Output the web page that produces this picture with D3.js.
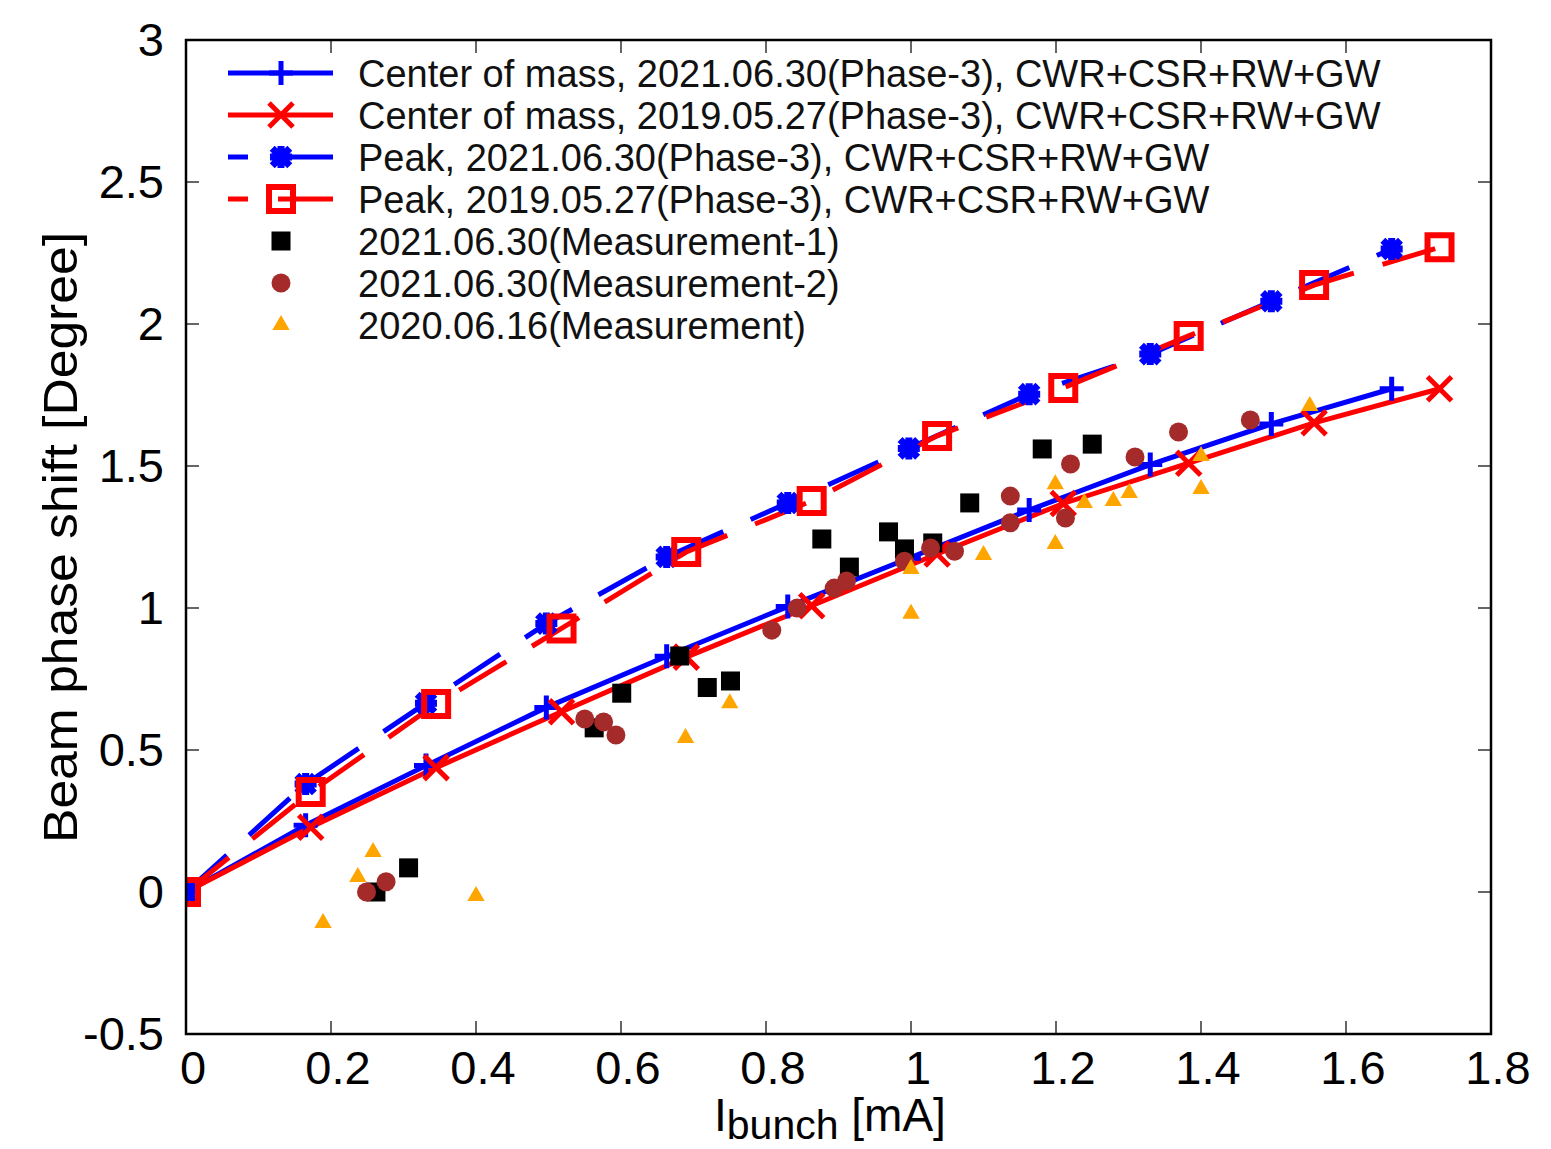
<!DOCTYPE html>
<html>
<head>
<meta charset="utf-8">
<script src="https://cdn.jsdelivr.net/npm/d3@7"></script>
<style>
  html, body { margin: 0; padding: 0; background: #fff; }
  svg { display: block; font-family: "Liberation Sans", Arial, Helvetica, sans-serif; }
</style>
</head>
<body>
<svg id="chart"></svg>
<script>
// simulation curves (x in mA, y in degree)
const com2021X = [0, 0.165, 0.331, 0.497, 0.663, 0.83, 0.997, 1.163, 1.33, 1.497, 1.663];
const com2021Y = [0, 0.235, 0.445, 0.65, 0.83, 1.005, 1.175, 1.345, 1.505, 1.648, 1.772];
const com2019X = [0, 0.172, 0.345, 0.518, 0.69, 0.863, 1.036, 1.21, 1.383, 1.556, 1.729];
const com2019Y = [0, 0.228, 0.438, 0.635, 0.827, 1.008, 1.19, 1.368, 1.51, 1.652, 1.772];
const peak2021Y = [0, 0.38, 0.665, 0.945, 1.18, 1.37, 1.562, 1.753, 1.894, 2.08, 2.264];
const peak2019Y = [0, 0.352, 0.662, 0.928, 1.197, 1.377, 1.606, 1.775, 1.958, 2.137, 2.27];

// measurements
const meas1X = [0.262, 0.307, 0.563, 0.601, 0.681, 0.719, 0.751, 0.877, 0.915, 0.969, 0.991, 1.03, 1.081, 1.181, 1.25];
const meas1Y = [0.0, 0.085, 0.578, 0.70, 0.831, 0.72, 0.743, 1.243, 1.144, 1.268, 1.208, 1.229, 1.37, 1.56, 1.577];
const meas2X = [0.249, 0.276, 0.55, 0.576, 0.593, 0.808, 0.843, 0.894, 0.911, 0.991, 1.027, 1.06, 1.137, 1.137, 1.213, 1.22, 1.309, 1.369, 1.468];
const meas2Y = [0.0, 0.036, 0.609, 0.599, 0.553, 0.922, 1.0, 1.07, 1.095, 1.165, 1.211, 1.2, 1.3, 1.394, 1.317, 1.507, 1.532, 1.62, 1.662];
const meas3X = [0.189, 0.237, 0.258, 0.4, 0.689, 0.75, 1.0, 1.0, 1.1, 1.199, 1.199, 1.239, 1.279, 1.301, 1.4, 1.4, 1.55];
const meas3Y = [-0.109, 0.053, 0.141, -0.014, 0.542, 0.665, 0.98, 1.137, 1.187, 1.225, 1.436, 1.37, 1.377, 1.405, 1.419, 1.535, 1.711];

const xTicks = [0, 0.2, 0.4, 0.6, 0.8, 1, 1.2, 1.4, 1.6, 1.8];
const yTicks = [-0.5, 0, 0.5, 1, 1.5, 2, 2.5, 3];

const legendLabels = [
    "Center of mass, 2021.06.30(Phase-3), CWR+CSR+RW+GW",
    "Center of mass, 2019.05.27(Phase-3), CWR+CSR+RW+GW",
    "Peak, 2021.06.30(Phase-3), CWR+CSR+RW+GW",
    "Peak, 2019.05.27(Phase-3), CWR+CSR+RW+GW",
    "2021.06.30(Measurement-1)",
    "2021.06.30(Measurement-2)",
    "2020.06.16(Measurement)",
];

const width = 1551;
const height = 1149;
const plot = { left: 186, right: 1491, top: 40, bottom: 1034 };

const svg = d3.select("#chart").attr("width", width).attr("height", height);

const x = d3.scaleLinear().domain([0, 1.8]).range([plot.left, plot.right]);
const y = d3.scaleLinear().domain([-0.5, 3]).range([plot.bottom, plot.top]);

const zip = (xs, ys) => xs.map((v, i) => ({ x: v, y: ys[i] }));

// marker shapes, centred on 0,0
const markers = {
    plus: (s) => `M${-s},0H${s}M0,${-s}V${s}`,
    cross: (s) => `M${-s},${-s}L${s},${s}M${-s},${s}L${s},${-s}`,
    star: (s) =>
        `M${-s},0H${s}M0,${-s}V${s}M${-s * 0.8},${-s * 0.8}L${s * 0.8},${s * 0.8}M${-s * 0.8},${s * 0.8}L${s * 0.8},${-s * 0.8}`,
    box: (s) => `M${-s},${-s}H${s}V${s}H${-s}Z`,
};

const series = [
    { data: zip(com2021X, com2021Y), color: "#0000ff", dash: null, marker: "plus", size: 12, sw: 5 },
    { data: zip(com2019X, com2019Y), color: "#ff0000", dash: null, marker: "cross", size: 12, sw: 5 },
    { data: zip(com2021X, peak2021Y), color: "#0000ff", dash: "55,30", marker: "star", size: 11, sw: 7 },
    { data: zip(com2019X, peak2019Y), color: "#ff0000", dash: "55,30", marker: "box", size: 12, sw: 6 },
];

// axis ticks (mirrored, pointing inwards)
const tickLen = 13;
const ticks = svg.append("g").attr("stroke", "#333").attr("stroke-width", 1.5);
xTicks.slice(1, -1).forEach((t) => {
    ticks.append("line").attr("x1", x(t)).attr("x2", x(t)).attr("y1", plot.bottom).attr("y2", plot.bottom - tickLen);
    ticks.append("line").attr("x1", x(t)).attr("x2", x(t)).attr("y1", plot.top).attr("y2", plot.top + tickLen);
});
yTicks.slice(1, -1).forEach((t) => {
    ticks.append("line").attr("x1", plot.left).attr("x2", plot.left + tickLen).attr("y1", y(t)).attr("y2", y(t));
    ticks.append("line").attr("x1", plot.right).attr("x2", plot.right - tickLen).attr("y1", y(t)).attr("y2", y(t));
});

// tick labels
svg.append("g")
    .selectAll("text")
    .data(xTicks)
    .join("text")
    .attr("x", (d) => x(d) + 7)
    .attr("y", plot.bottom + 50)
    .attr("text-anchor", "middle")
    .attr("font-size", 47)
    .text((d) => String(d));

svg.append("g")
    .selectAll("text")
    .data(yTicks)
    .join("text")
    .attr("x", plot.left - 22)
    .attr("y", (d) => y(d) + 16)
    .attr("text-anchor", "end")
    .attr("font-size", 47)
    .text((d) => String(d));

// axis titles
svg.append("text")
    .attr("transform", `translate(77, ${(232 + 843) / 2}) rotate(-90)`)
    .attr("text-anchor", "middle")
    .attr("font-size", 48)
    .attr("textLength", 611)
    .attr("lengthAdjust", "spacingAndGlyphs")
    .text("Beam phase shift [Degree]");

const xTitle = svg.append("text").attr("x", 714).attr("y", 1131).attr("font-size", 46);
xTitle.append("tspan").text("I");
xTitle.append("tspan").attr("font-size", 41).attr("dy", 8).text("bunch");
xTitle.append("tspan").attr("dy", -8).text(" [mA]");

// plot clip
svg.append("clipPath").attr("id", "clip")
    .append("rect")
    .attr("x", plot.left).attr("y", plot.top)
    .attr("width", plot.right - plot.left).attr("height", plot.bottom - plot.top);

const body = svg.append("g").attr("clip-path", "url(#clip)");
const line = d3.line().x((d) => x(d.x)).y((d) => y(d.y));

// curves
series.forEach((s) => {
    body.append("path")
        .datum(s.data)
        .attr("d", line)
        .attr("fill", "none")
        .attr("stroke", s.color)
        .attr("stroke-width", 5)
        .attr("stroke-dasharray", s.dash);
});
series.forEach((s) => {
    body.append("g")
        .selectAll("path")
        .data(s.data)
        .join("path")
        .attr("transform", (d) => `translate(${x(d.x)},${y(d.y)})`)
        .attr("d", markers[s.marker](s.size))
        .attr("fill", "none")
        .attr("stroke", s.color)
        .attr("stroke-width", s.sw);
});

// measurement points
body.append("g")
    .selectAll("rect")
    .data(zip(meas1X, meas1Y))
    .join("rect")
    .attr("x", (d) => x(d.x) - 9.5)
    .attr("y", (d) => y(d.y) - 9.5)
    .attr("width", 19)
    .attr("height", 19)
    .attr("fill", "#000");

body.append("g")
    .selectAll("circle")
    .data(zip(meas2X, meas2Y))
    .join("circle")
    .attr("cx", (d) => x(d.x))
    .attr("cy", (d) => y(d.y))
    .attr("r", 9.5)
    .attr("fill", "#a52a2a");

const tri = d3.symbol().type(d3.symbolTriangle).size(130);
body.append("g")
    .selectAll("path")
    .data(zip(meas3X, meas3Y))
    .join("path")
    .attr("transform", (d) => `translate(${x(d.x)},${y(d.y)})`)
    .attr("d", tri)
    .attr("fill", "#ffa500");

// frame
svg.append("rect")
    .attr("x", plot.left).attr("y", plot.top)
    .attr("width", plot.right - plot.left).attr("height", plot.bottom - plot.top)
    .attr("fill", "none")
    .attr("stroke", "#000")
    .attr("stroke-width", 2.5);

// legend
const legend = svg.append("g");
const rowY = (i) => 73 + i * 42;
series.forEach((s, i) => {
    legend.append("line")
        .attr("x1", 333).attr("x2", 228)
        .attr("y1", rowY(i)).attr("y2", rowY(i))
        .attr("stroke", s.color)
        .attr("stroke-width", 5)
        .attr("stroke-dasharray", s.dash);
    legend.append("path")
        .attr("transform", `translate(281,${rowY(i)})`)
        .attr("d", markers[s.marker](s.size))
        .attr("fill", "none")
        .attr("stroke", s.color)
        .attr("stroke-width", s.sw);
});
legend.append("rect")
    .attr("x", 281 - 9.5).attr("y", rowY(4) - 9.5)
    .attr("width", 19).attr("height", 19)
    .attr("fill", "#000");
legend.append("circle")
    .attr("cx", 281).attr("cy", rowY(5))
    .attr("r", 9.5)
    .attr("fill", "#a52a2a");
legend.append("path")
    .attr("transform", `translate(281,${rowY(6)})`)
    .attr("d", tri)
    .attr("fill", "#ffa500");

legend.selectAll("text")
    .data(legendLabels)
    .join("text")
    .attr("x", 358)
    .attr("y", (d, i) => rowY(i) + 14)
    .attr("font-size", 38)
    .attr("fill", "#111")
    .text((d) => d);
</script>
</body>
</html>
